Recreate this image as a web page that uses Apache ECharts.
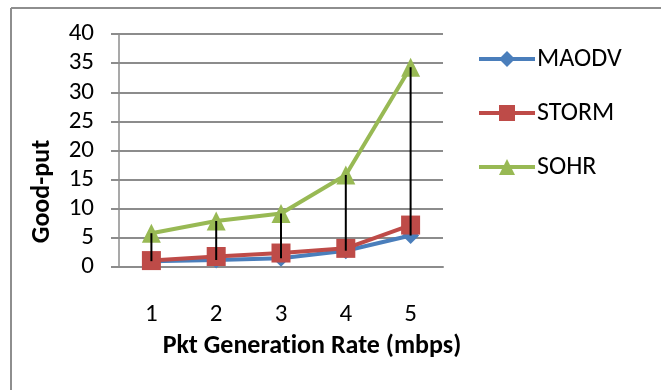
<!DOCTYPE html>
<html>
<head>
<meta charset="utf-8">
<script src="https://cdn.jsdelivr.net/npm/echarts@6/dist/echarts.min.js"></script>
<style>html,body{margin:0;padding:0;background:#fff}#c{width:661px;height:390px}</style>
</head>
<body>
<div id="c"></div>
<script>
const categories = ['1', '2', '3', '4', '5'];
const maodv = [1.0, 1.2, 1.5, 2.8, 5.4];
const storm = [1.1, 1.8, 2.4, 3.2, 7.2];
const sohr = [5.8, 7.9, 9.2, 15.8, 34.3];
const yTicks = [0, 5, 10, 15, 20, 25, 30, 35, 40];

const FONT = 'Carlito, "Liberation Sans", sans-serif';
const hiLo = categories.map((c, i) => [i, Math.max(maodv[i], storm[i], sohr[i]), Math.min(maodv[i], storm[i], sohr[i])]);

const chart = echarts.init(document.getElementById('c'), null, {renderer: 'canvas'});
chart.setOption({
  animation: false,
  backgroundColor: '#fff',
  textStyle: {fontFamily: FONT},
  graphic: [
    {type: 'line', shape: {x1: 11, y1: 8, x2: 661, y2: 8}, style: {stroke: '#8e8e8e', lineWidth: 2}},
    {type: 'line', shape: {x1: 11, y1: 8, x2: 11, y2: 390}, style: {stroke: '#8e8e8e', lineWidth: 2}}
  ],
  grid: {left: 119, right: 218, top: 34, bottom: 123},
  legend: {
    orient: 'vertical', left: 472, top: 41,
    itemWidth: 56, itemHeight: 20, itemGap: 28,
    lineStyle: {width: 4},
    textStyle: {fontSize: 26, fontFamily: FONT, color: '#000', lineHeight: 26, padding: [0, 0, 0, -3]},
    data: ['MAODV', 'STORM', 'SOHR']
  },
  xAxis: {
    type: 'category', data: categories, boundaryGap: true,
    name: 'Pkt Generat\u200Cion Rate (mbps)', nameLocation: 'middle', nameGap: 66,
    nameTextStyle: {fontSize: 26, fontWeight: 'bold', color: '#000', fontFamily: FONT, padding: [0, 0, 0, 62]},
    axisLine: {show: true, lineStyle: {color: '#8c8c8c', width: 2}},
    axisTick: {show: false},
    axisLabel: {fontSize: 25, color: '#000', margin: 35, fontFamily: FONT}
  },
  yAxis: {
    type: 'value', min: 0, max: 40, interval: 5,
    name: 'Good-put', nameLocation: 'middle', nameGap: 64, nameRotate: 90,
    nameTextStyle: {fontSize: 26, fontWeight: 'bold', color: '#000', fontFamily: FONT, padding: [0, 82, 0, 0]},
    axisLine: {show: true, lineStyle: {color: '#8c8c8c', width: 1.5}},
    axisTick: {show: true, inside: false, length: 8, lineStyle: {color: '#8c8c8c', width: 2}},
    splitLine: {show: true, lineStyle: {color: '#8c8c8c', width: 2}},
    axisLabel: {fontSize: 25, color: '#000', margin: 25, fontFamily: FONT,
      formatter: v => yTicks.includes(v) ? String(v) : ''}
  },
  series: [
    {name: 'MAODV', type: 'line', data: maodv, symbol: 'diamond', symbolSize: 17,
      lineStyle: {color: '#4a7ebb', width: 4}, itemStyle: {color: '#4a7ebb'}, z: 3},
    {name: 'STORM', type: 'line', data: storm, symbol: 'rect', symbolSize: 19,
      lineStyle: {color: '#be4b48', width: 4}, itemStyle: {color: '#be4b48'}, z: 4},
    {name: 'SOHR', type: 'line', data: sohr, symbol: 'triangle', symbolSize: 19,
      lineStyle: {color: '#98b954', width: 4}, itemStyle: {color: '#98b954'}, z: 5},
    {name: 'hilo', type: 'custom', data: hiLo, z: 10, silent: true,
      renderItem: (params, api) => {
        const a = api.coord([api.value(0), api.value(1)]);
        const b = api.coord([api.value(0), api.value(2)]);
        return {type: 'line', shape: {x1: a[0], y1: a[1], x2: b[0], y2: b[1]}, style: {stroke: '#000', lineWidth: 2}};
      },
      encode: {x: 0, y: [1, 2]}
    }
  ]
});
</script>
</body>
</html>
